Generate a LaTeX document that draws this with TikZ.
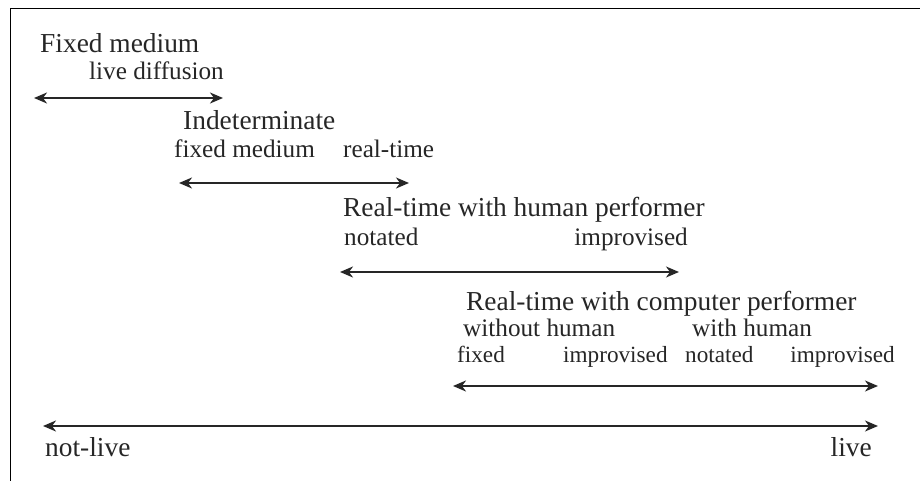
\documentclass[tikz,border=0pt]{standalone}
\usepackage{fontspec}
\setmainfont{Liberation Serif}
\usetikzlibrary{arrows.meta}
\begin{document}
\begin{tikzpicture}[x=1bp,y=-1bp,
  every node/.style={inner sep=0pt,anchor=base west,text=black!85},
  head/.style={font=\fontsize{27.4bp}{30bp}\selectfont},
  sub/.style={font=\fontsize{25.2bp}{28bp}\selectfont},
  subsm/.style={font=\fontsize{23.2bp}{26bp}\selectfont},
  span/.style={{Stealth[length=13bp,width=11bp,inset=4bp]}-{Stealth[length=13bp,width=11bp,inset=4bp]},line width=1.6bp,black!85}]
\useasboundingbox (0,0) rectangle (920,481);
\draw[line width=1bp] (920,9) -- (10,9) -- (10,481);
% fixed medium
\node[head] (fm) at (40,53) {Fixed medium};
\node[sub] (fmld) at (89,80) {live diffusion};
\coordinate (a1l) at (34,98);
\coordinate (a1r) at (223,98);
\draw[span] (a1l) -- (a1r);
% indeterminate
\node[head] (ind) at (183,130) {Indeterminate};
\node[sub] (indfm) at (174,158) {fixed medium};
\node[sub] (indrt) at (343,158) {real-time};
\coordinate (a2l) at (179,183);
\coordinate (a2r) at (409,183);
\draw[span] (a2l) -- (a2r);
% human performer
\node[head] (rth) at (343,217) {Real-time with human performer};
\node[sub] (rthn) at (344,246) {notated};
\node[sub,anchor=base east] (rthi) at (688,246) {improvised};
\coordinate (a3l) at (340,272);
\coordinate (a3r) at (679,272);
\draw[span] (a3l) -- (a3r);
% computer performer
\node[head] (rtc) at (466,311) {Real-time with computer performer};
\node[sub] (rtcwo) at (463,337) {without human};
\node[sub] (rtcw) at (692,337) {with human};
\node[subsm] (rtcf) at (457,363) {fixed};
\node[subsm] (rtci) at (563,363) {improvised};
\node[subsm] (rtcn) at (685,363) {notated};
\node[subsm,anchor=base east] (rtci2) at (895,363) {improvised};
\coordinate (a4l) at (453,386);
\coordinate (a4r) at (878,386);
\draw[span] (a4l) -- (a4r);
% main axis
\coordinate (a5l) at (43,426);
\coordinate (a5r) at (878,426);
\draw[span] (a5l) -- (a5r);
\node[head] (nl) at (45,456) {not-live};
\node[head,anchor=base east] (lv) at (872,456) {live};
\end{tikzpicture}
\end{document}
